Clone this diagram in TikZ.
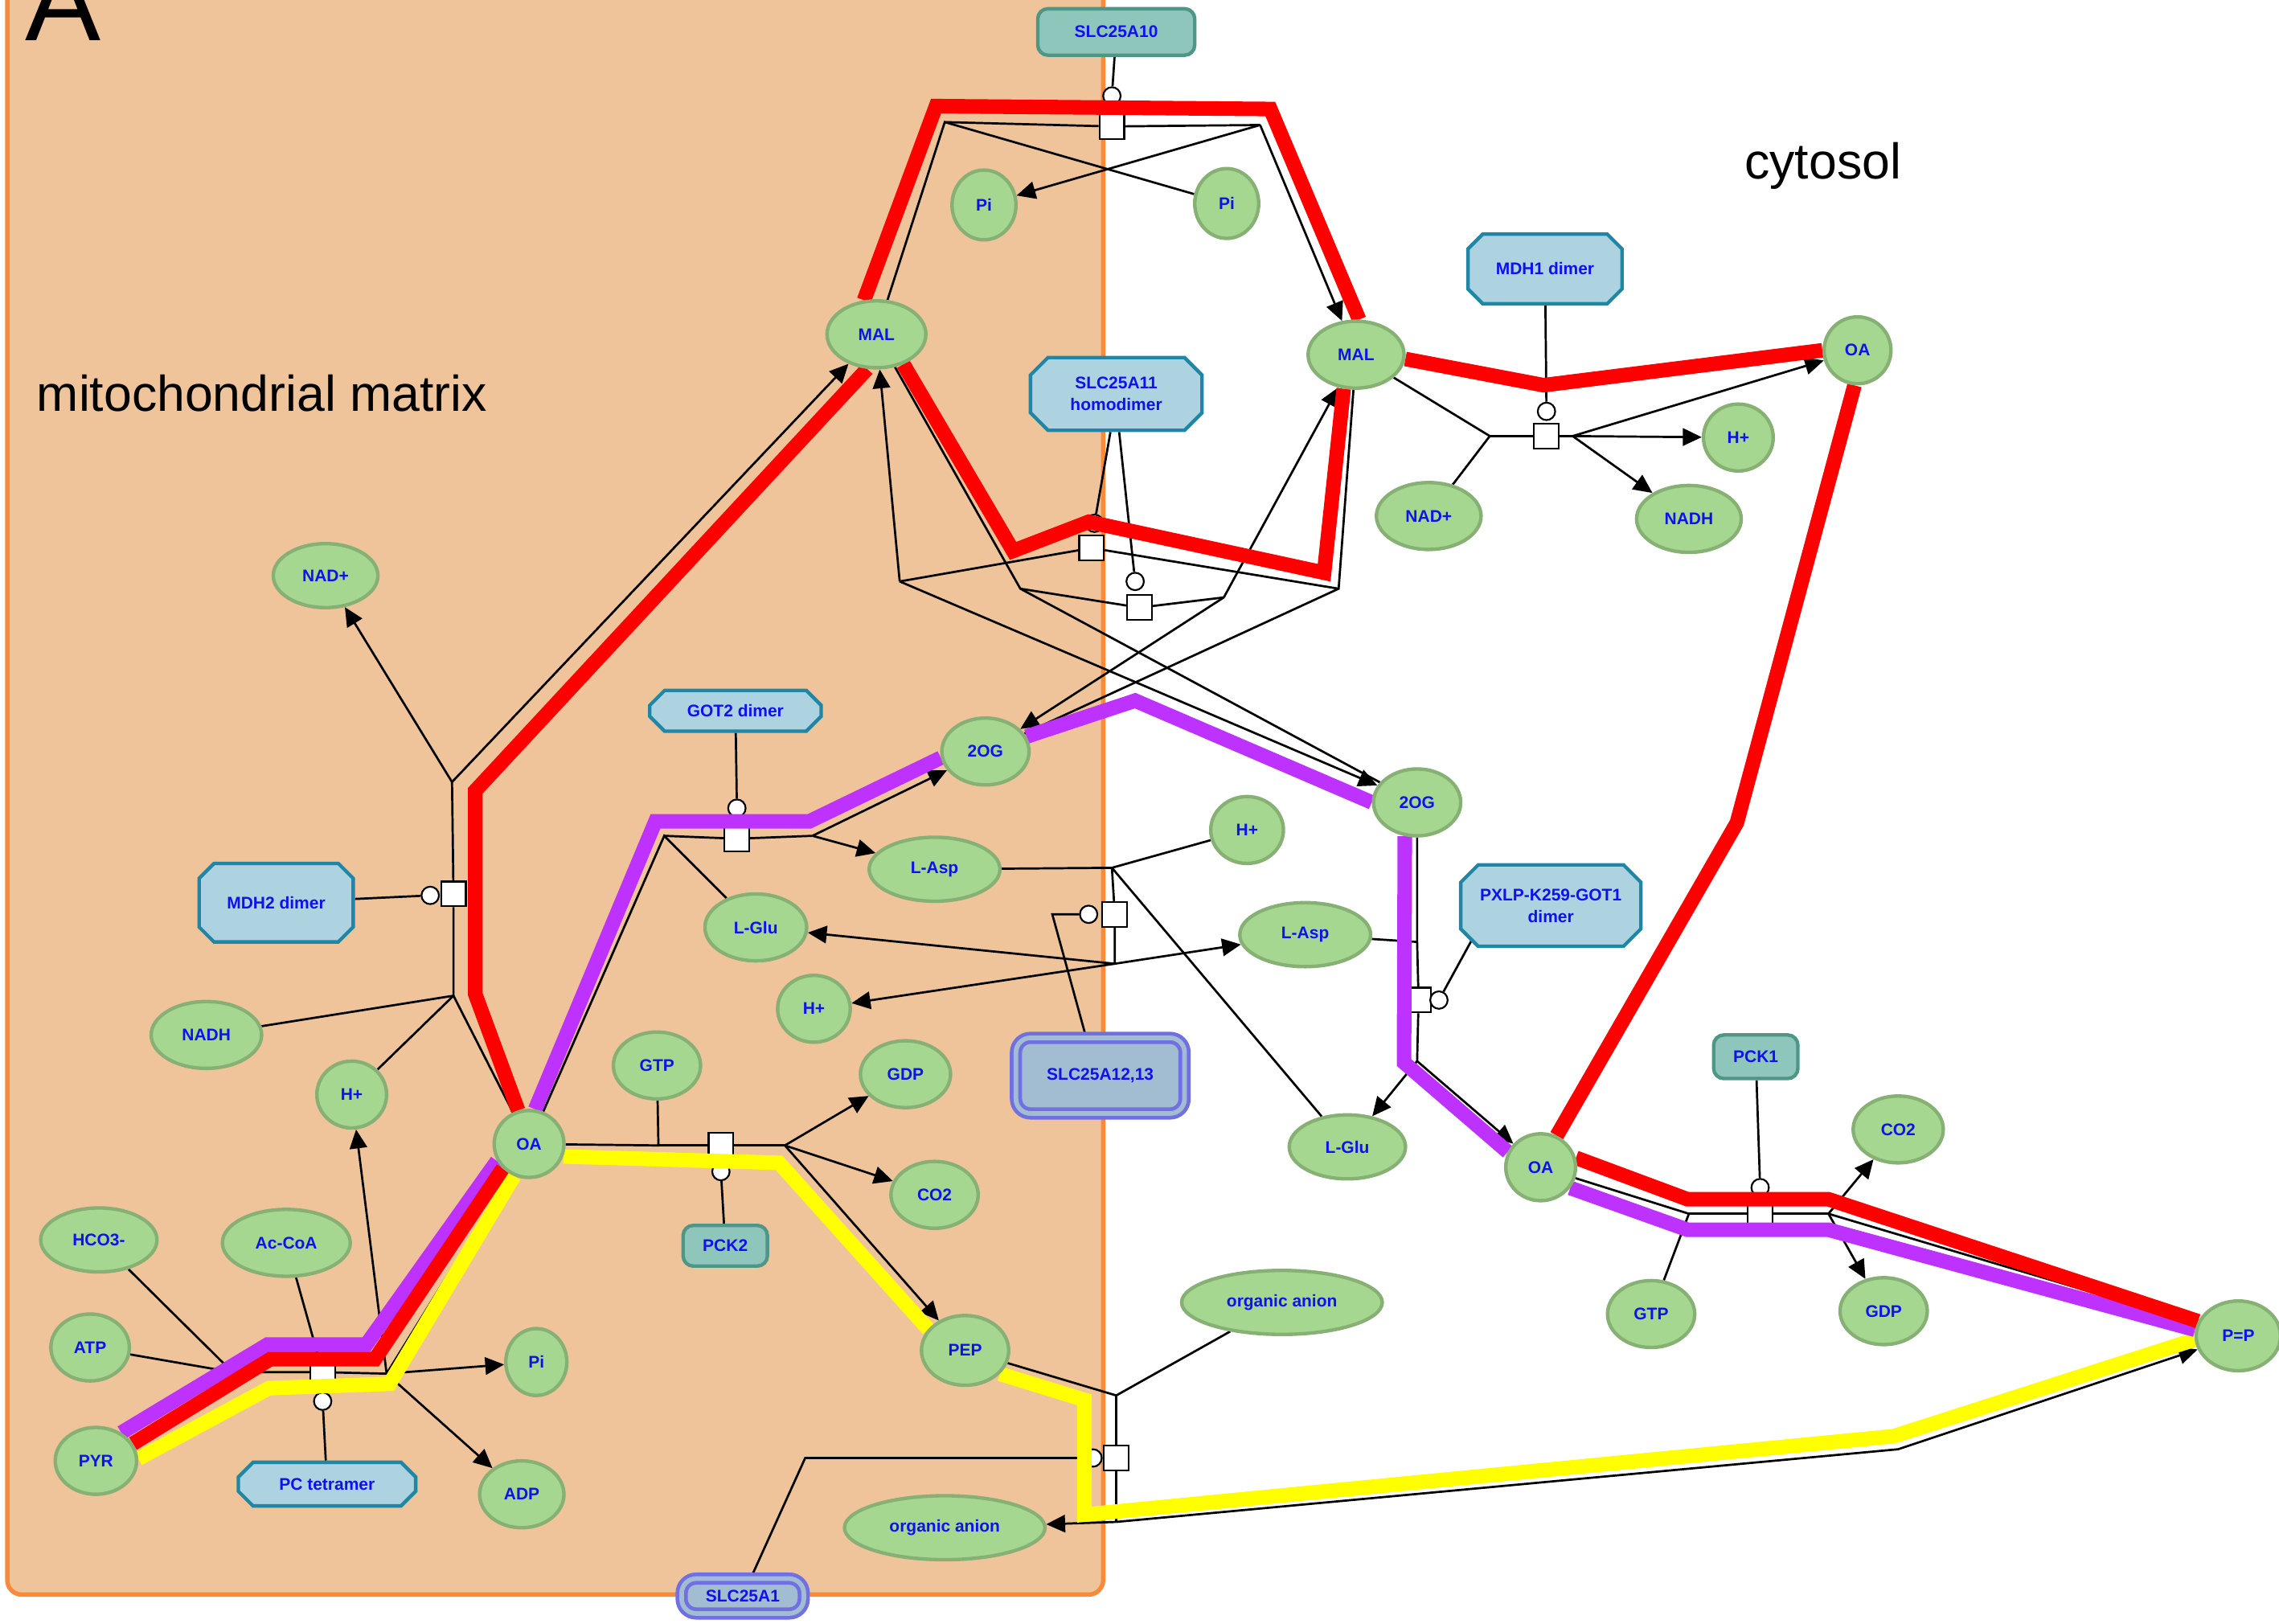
\documentclass[tikz,border=0pt]{standalone}
\usepackage{fontspec}
\setmainfont{Liberation Sans}
\usetikzlibrary{arrows.meta,shapes.geometric,shapes.misc}
\definecolor{mtxfill}{RGB}{239,196,154}
\definecolor{mtxline}{RGB}{247,139,58}
\definecolor{chemfill}{RGB}{166,215,145}
\definecolor{chemline}{RGB}{134,176,116}
\definecolor{lbltext}{RGB}{16,16,240}
\definecolor{cplxfill}{RGB}{173,210,224}
\definecolor{cplxline}{RGB}{32,134,166}
\definecolor{protfill}{RGB}{143,198,188}
\definecolor{protline}{RGB}{78,150,134}
\definecolor{trnsfill}{RGB}{162,188,210}
\definecolor{trnsline}{RGB}{112,112,226}
\definecolor{flowred}{RGB}{255,0,0}
\definecolor{flowpurple}{RGB}{190,50,255}
\definecolor{flowyellow}{RGB}{255,255,0}
\pgfdeclarelayer{backlayer}
\pgfdeclarelayer{rxnlayer}
\pgfdeclarelayer{flowlayer}
\pgfsetlayers{backlayer,rxnlayer,flowlayer,main}
\newcommand{\spfont}{\fontsize{5.8}{7.4}\selectfont\bfseries}

\begin{document}
\begin{tikzpicture}[
  x=0.5pt, y=-0.5pt,
  chem/.style={ellipse, fill=chemfill, draw=chemline, line width=1.2pt, inner sep=0pt, text=lbltext, font=\spfont},
  cplx/.style={chamfered rectangle, chamfered rectangle xsep=3pt, chamfered rectangle ysep=3pt, fill=cplxfill, draw=cplxline, line width=1.2pt, inner sep=0pt, text=lbltext, font=\spfont, align=center},
  prot/.style={rectangle, rounded corners=3.5pt, fill=protfill, draw=protline, line width=1.2pt, inner sep=0pt, text=lbltext, font=\spfont},
  trns/.style={rectangle, rounded corners=5pt, fill=trnsfill, draw=trnsline, line width=1.3pt, double=trnsfill, double distance=1.6pt, inner sep=0pt, text=lbltext, font=\spfont},
  proc/.style={rectangle, draw=black, fill=white, line width=0.6pt, minimum size=8.5pt, inner sep=0pt},
  cat/.style={circle, draw=black, fill=white, line width=0.6pt, minimum size=6pt, inner sep=0pt},
  rxn/.style={draw=black, line width=0.75pt},
  prod/.style={rxn, -{Triangle[length=6.5pt,width=6pt]}},
  flow/.style={line width=5pt},
  mtx/.style={draw=mtxline, fill=mtxfill, line width=1.5pt, rounded corners=5pt}
]
\useasboundingbox (0,0) rectangle (1568,1117);

\node[anchor=base west, inner sep=0pt, font=\fontsize{39}{39}\selectfont] (panel) at (17,28) {A};
\node[anchor=base west, inner sep=0pt, font=\fontsize{17.3}{20}\selectfont] (mtxlabel) at (25,283) {mitochondrial matrix};
\node[anchor=base west, inner sep=0pt, font=\fontsize{17.3}{20}\selectfont] (cytlabel) at (1200,123) {cytosol};

% small molecules
\node[chem, minimum width=22pt, minimum height=24pt] (PiL) at (677,141) {Pi};
\node[chem, minimum width=22pt, minimum height=24pt] (PiR) at (844,140) {Pi};
\node[chem, minimum width=34pt, minimum height=23pt] (MALm) at (603,230) {MAL};
\node[chem, minimum width=33pt, minimum height=23pt] (MALc) at (933,244) {MAL};
\node[chem, minimum width=23pt, minimum height=23pt] (OAct) at (1278,241) {OA};
\node[chem, minimum width=24pt, minimum height=23pt] (Hct) at (1196,301) {H+};
\node[chem, minimum width=36pt, minimum height=23pt] (NADc) at (983,355) {NAD+};
\node[chem, minimum width=36pt, minimum height=23pt] (NADHc) at (1162,357) {NADH};
\node[chem, minimum width=36pt, minimum height=22pt] (NADm) at (224,396) {NAD+};
\node[chem, minimum width=30pt, minimum height=23pt] (OGm) at (678,517) {2OG};
\node[chem, minimum width=30pt, minimum height=23pt] (OGc) at (975,552) {2OG};
\node[chem, minimum width=25pt, minimum height=23pt] (Hcs) at (858,571) {H+};
\node[chem, minimum width=45pt, minimum height=22pt] (ASPm) at (643,598) {L-Asp};
\node[chem, minimum width=35pt, minimum height=23pt] (GLUm) at (520,638) {L-Glu};
\node[chem, minimum width=45pt, minimum height=22pt] (ASPc) at (898,643) {L-Asp};
\node[chem, minimum width=25pt, minimum height=23pt] (Hms) at (560,694) {H+};
\node[chem, minimum width=38pt, minimum height=23pt] (NADHm) at (142,712) {NADH};
\node[chem, minimum width=24pt, minimum height=23pt] (Hmd) at (242,753) {H+};
\node[chem, minimum width=30pt, minimum height=23pt] (GTPm) at (452,733) {GTP};
\node[chem, minimum width=31pt, minimum height=23pt] (GDPm) at (623,739) {GDP};
\node[chem, minimum width=24pt, minimum height=23pt] (OAm) at (364,787) {OA};
\node[chem, minimum width=30pt, minimum height=23pt] (CO2m) at (643,822) {CO2};
\node[chem, minimum width=40pt, minimum height=22pt] (HCO3) at (68,853) {HCO3-};
\node[chem, minimum width=44pt, minimum height=23pt] (ACoA) at (197,855) {Ac-CoA};
\node[chem, minimum width=27pt, minimum height=23pt] (ATP) at (62,927) {ATP};
\node[chem, minimum width=21pt, minimum height=23pt] (Pim) at (369,937) {Pi};
\node[chem, minimum width=30pt, minimum height=24pt] (PEPm) at (664,929) {PEP};
\node[chem, minimum width=69pt, minimum height=22pt] (OANc) at (882,896) {organic anion};
\node[chem, minimum width=28pt, minimum height=23pt] (PYR) at (66,1005) {PYR};
\node[chem, minimum width=29pt, minimum height=23pt] (ADP) at (359,1028) {ADP};
\node[chem, minimum width=69pt, minimum height=22pt] (OANm) at (650,1051) {organic anion};
\node[chem, minimum width=31pt, minimum height=23pt] (CO2c) at (1306,777) {CO2};
\node[chem, minimum width=40pt, minimum height=22pt] (GLUc) at (927,789) {L-Glu};
\node[chem, minimum width=24pt, minimum height=23pt] (OAcb) at (1060,803) {OA};
\node[chem, minimum width=30pt, minimum height=23pt] (GTPc) at (1136,904) {GTP};
\node[chem, minimum width=30pt, minimum height=23pt] (GDPc) at (1296,902) {GDP};
\node[chem, minimum width=29pt, minimum height=24pt] (PEPc) at (1540,919) {P=P};

% complexes and proteins
\node[cplx, minimum width=59pt, minimum height=25pt] (SLC11) at (768,271) {SLC25A11\\homodimer};
\node[cplx, minimum width=53pt, minimum height=24pt] (MDH1) at (1063,185) {MDH1 dimer};
\node[cplx, minimum width=59pt, minimum height=14pt] (GOT2) at (506,489) {GOT2 dimer};
\node[cplx, minimum width=53pt, minimum height=27pt] (MDH2) at (190,621) {MDH2 dimer};
\node[cplx, minimum width=62pt, minimum height=28pt] (GOT1) at (1067,623) {PXLP-K259-GOT1\\dimer};
\node[cplx, minimum width=61pt, minimum height=15pt] (PCtet) at (225,1021) {PC tetramer};
\node[prot, minimum width=54pt, minimum height=16pt] (SLC10) at (768,22) {SLC25A10};
\node[prot, minimum width=29pt, minimum height=14pt] (PCK2) at (499,857) {PCK2};
\node[prot, minimum width=29pt, minimum height=15pt] (PCK1) at (1208,727) {PCK1};
\node[trns, minimum width=58pt, minimum height=26pt] (SLC1213) at (757,740) {SLC25A12,13};
\node[trns, minimum width=42pt, minimum height=12pt] (SLC1) at (511,1098) {SLC25A1};

\begin{pgfonlayer}{backlayer}
\draw[mtx] (5,-30) rectangle (759,1097);
\end{pgfonlayer}

\begin{pgfonlayer}{rxnlayer}
% SLC25A10
\node[proc] (p1) at (765,87) {};
\node[cat] (c1) at (765,66) {};
\coordinate (j1a) at (650,84);
\coordinate (j1b) at (867,86);
\draw[rxn] (SLC10) -- (c1);
\draw[rxn] (j1a) -- (p1) -- (j1b);
\draw[rxn] (MALm) -- (j1a) -- (PiR);
\draw[prod] (j1b) -- (PiL);
\draw[prod] (j1b) -- (MALc);
% SLC25A11, both directions
\node[proc] (p2) at (751,377) {};
\node[cat] (c2) at (753,360) {};
\node[proc] (p3) at (784,418) {};
\node[cat] (c3) at (781,400) {};
\coordinate (j2a) at (619,400);
\coordinate (j2b) at (921,405);
\coordinate (j3a) at (702,405);
\coordinate (j3b) at (842,411);
\draw[rxn] ([xshift=-2pt]SLC11.south) -- (c2);
\draw[rxn] ([xshift=1pt]SLC11.south) -- (c3);
\draw[rxn] (j2a) -- (p2) -- (j2b);
\draw[rxn] (j3a) -- (p3) -- (j3b);
\draw[rxn] (MALc) -- (j2b) -- (OGm);
\draw[prod] (j2a) -- (MALm);
\draw[prod] (j2a) -- (OGc);
\draw[rxn] (MALm) -- (j3a) -- (OGc);
\draw[prod] (j3b) -- (MALc);
\draw[prod] (j3b) -- (OGm);
% MDH1
\node[proc] (p4) at (1064,300) {};
\node[cat] (c4) at (1064,283) {};
\coordinate (j4a) at (1025,300);
\coordinate (j4b) at (1082,300);
\draw[rxn] (MDH1) -- (c4);
\draw[rxn] (MALc) -- (j4a) -- (NADc);
\draw[rxn] (j4a) -- (p4) -- (j4b);
\draw[prod] (j4b) -- (Hct);
\draw[prod] (j4b) -- (NADHc);
\draw[prod] (j4b) -- (OAct);
% MDH2
\node[proc] (p5) at (312,615) {};
\node[cat] (c5) at (296,616) {};
\coordinate (j5a) at (311,538);
\coordinate (j5b) at (312,685);
\draw[rxn] (MDH2) -- (c5);
\draw[rxn] (j5a) -- (p5) -- (j5b);
\draw[prod] (j5a) -- (NADm);
\draw[prod] (j5a) -- (MALm);
\draw[rxn] (NADHm) -- (j5b) -- (OAm);
\draw[rxn] (Hmd) -- (j5b);
% GOT2
\node[proc] (p6) at (507,577) {};
\node[cat] (c6) at (507,556) {};
\coordinate (j6a) at (457,575);
\coordinate (j6b) at (559,575);
\draw[rxn] (GOT2) -- (c6);
\draw[rxn] (OAm) -- (j6a) -- (GLUm);
\draw[rxn] (j6a) -- (p6) -- (j6b);
\draw[prod] (j6b) -- (ASPm);
\draw[prod] (j6b) -- (OGm);
% GOT1
\node[proc] (p7) at (976,688) {};
\node[cat] (c7) at (990,688) {};
\coordinate (j7a) at (975,648);
\coordinate (j7b) at (975,730);
\draw[rxn] (c7) -- ([xshift=2pt,yshift=1pt]GOT1.south west);
\draw[rxn] (OGc) -- (j7a) -- (ASPc);
\draw[rxn] (j7a) -- (p7) -- (j7b);
\draw[prod] (j7b) -- (GLUc);
\draw[prod] (j7b) -- (OAcb);
% SLC25A12,13
\node[proc] (p8) at (767,629) {};
\node[cat] (c8) at (749,629) {};
\coordinate (j8a) at (765,597);
\coordinate (j8b) at (767,663);
\draw[rxn] (c8) -- ++(-25,0) -- ([xshift=-5pt]SLC1213.north);
\draw[rxn] (ASPm) -- (j8a) -- (Hcs);
\draw[rxn] (j8a) -- (GLUc);
\draw[rxn] (j8a) -- (p8) -- (j8b);
\draw[prod] (j8b) -- (GLUm);
\draw[prod] (j8b) -- (Hms);
\draw[prod] (j8b) -- (ASPc);
% PCK2
\node[proc] (p9) at (496,788) {};
\node[cat] (c9) at (496,806) {};
\coordinate (j9a) at (453,788);
\coordinate (j9b) at (540,788);
\draw[rxn] (PCK2) -- (c9);
\draw[rxn] (OAm) -- (j9a) -- (GTPm);
\draw[rxn] (j9a) -- (p9) -- (j9b);
\draw[prod] (j9b) -- (GDPm);
\draw[prod] (j9b) -- (CO2m);
\draw[prod] (j9b) -- (PEPm);
% SLC25A1
\node[proc] (p10) at (768,1003) {};
\node[cat] (c10) at (752,1003) {};
\coordinate (j10a) at (768,960);
\coordinate (j10b) at (768,1047);
\draw[rxn] (c10) -- ++(-198,0) -- ([xshift=3pt]SLC1.north);
\draw[rxn] (PEPm) -- (j10a) -- (OANc);
\draw[rxn] (j10a) -- (p10) -- (j10b);
\draw[prod] (j10b) -- (OANm);
\draw[prod] (j10b) -- (1306,997) -- (PEPc);
% PC
\node[proc] (p11) at (222,944) {};
\node[cat] (c11) at (222,964) {};
\coordinate (j11a) at (160,944);
\coordinate (j11b) at (266,945);
\draw[rxn] (PCtet) -- (c11);
\draw[rxn] (HCO3) -- (j11a) -- (ATP);
\draw[rxn] (j11a) -- (p11) -- (j11b);
\draw[rxn] (ACoA) -- (p11);
\draw[prod] (j11b) -- (OAm);
\draw[prod] (j11b) -- (Hmd);
\draw[prod] (j11b) -- (Pim);
\draw[prod] (j11b) -- (ADP);
% PCK1
\node[proc] (p12) at (1211,835) {};
\node[cat] (c12) at (1211,817) {};
\coordinate (j12a) at (1162,835);
\coordinate (j12b) at (1258,835);
\draw[rxn] (PCK1) -- (c12);
\draw[rxn] (OAcb) -- (j12a) -- (GTPc);
\draw[rxn] (j12a) -- (p12) -- (j12b);
\draw[prod] (j12b) -- (CO2c);
\draw[prod] (j12b) -- (GDPc);
\draw[prod] (j12b) -- (PEPc);
\end{pgfonlayer}

\begin{pgfonlayer}{flowlayer}
\draw[flow, flowyellow] (PYR.3) -- (185,955) -- (268,952) -- (OAm.245);
\draw[flow, flowyellow] (OAm.-20) -- (536,800) -- (PEPm.150);
\draw[flow, flowyellow] (PEPm.-34) -- (746,963) -- (746,1042) -- (1303,988) -- (PEPc.185);
\draw[flow, flowpurple] (PYR.48) -- (184,925) -- (252,925) -- (OAm.208);
\draw[flow, flowpurple] (OAm.80) -- (451,565) -- (557,565) -- (OGm.188);
\draw[flow, flowpurple] (OGm.20) -- (781,482) -- (OGc.180);
\draw[flow, flowpurple] (OGc.250) -- (966,731) -- (OAcb.155);
\draw[flow, flowpurple] (OAcb.-35) -- (1161,846) -- (1258,846) -- (PEPc.172);
\draw[flow, flowred] (PYR.25) -- (186,935) -- (258,935) -- (OAm.223);
\draw[flow, flowred] (OAm.108) -- (327,684) -- (327,544) -- (MALm.255);
\draw[flow, flowred] (MALm.110) -- (644,73) -- (874,75) -- (MALc.85);
\draw[flow, flowred] (MALc.250) -- (911,394) -- (749,359) -- (697,379) -- (MALm.-48);
\draw[flow, flowred] (MALc.-5) -- (1062,265) -- (OAct.180);
\draw[flow, flowred] (OAct.265) -- (1195,566) -- (OAcb.63);
\draw[flow, flowred] (OAcb.15) -- (1161,825) -- (1258,825) -- (PEPc.160);
\end{pgfonlayer}
\end{tikzpicture}
\end{document}
